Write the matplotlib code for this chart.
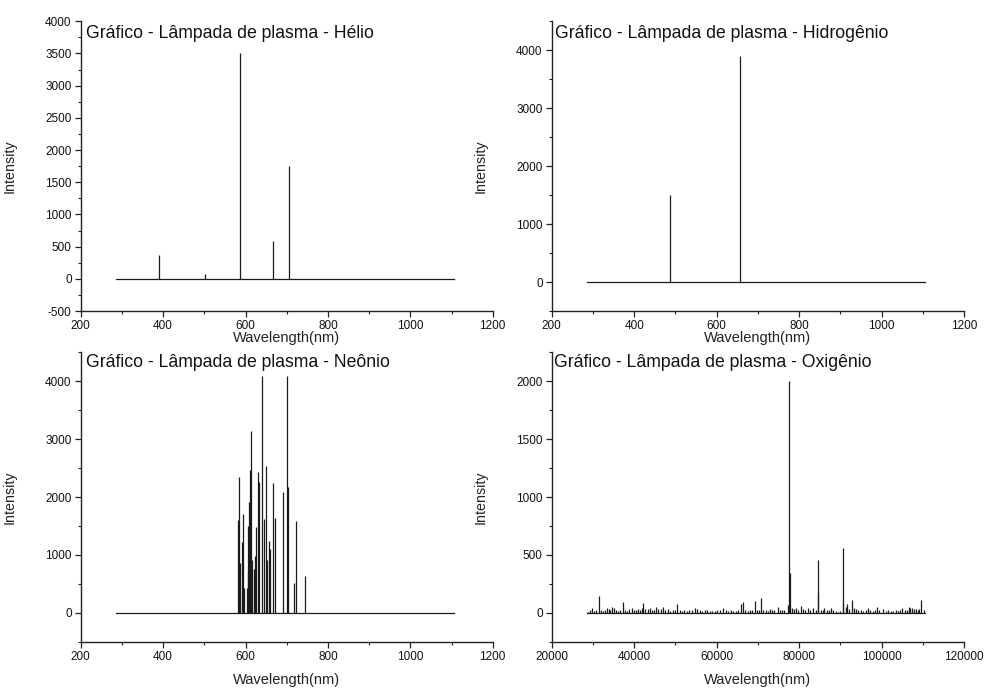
import matplotlib
matplotlib.use("Agg")
import matplotlib.pyplot as plt
from matplotlib.ticker import MultipleLocator

plt.rcParams['font.family'] = ['Liberation Sans', 'DejaVu Sans']
plt.rcParams['axes.unicode_minus'] = False

# ---------------- data ----------------
baseline_range = [285, 1105]

helio_wl = [389.3, 502, 587, 667.8, 706.6]
helio_int = [377, 82, 3504, 594, 1746]

hidro_wl = [486, 656]
hidro_int = [1500, 3900]

neon_wl = [582.5, 585, 586, 592, 594.7, 597, 603, 605, 607, 608.5, 611.7, 614.3,
           616.5, 620, 623, 626.2, 630.4, 633.6, 640, 645, 649, 651.5, 656, 659.5,
           666.7, 671, 692, 701.5, 703, 717, 723.4, 744.5]
neon_int = [1601, 2338, 864, 1226, 1705, 426, 426, 697, 1497, 1918, 2465, 3143,
            910, 749, 980, 1486, 2436, 2262, 4090, 1613, 2534, 910, 1244, 1100,
            2234, 1630, 2079, 4090, 2170, 508, 1584, 634]

oxi_range = [28500, 110500]
oxi_wl = [28800, 29300, 29800, 30300, 30800, 31550, 31900, 32400, 32900, 33350,
          33800, 34100, 34550, 35000, 35500, 36000, 36500, 37370, 37800, 38300,
          38800, 39400, 39900, 40400, 40900, 41400, 41800, 42220, 42700, 43300,
          43840, 44400, 44900, 45300, 45800, 46400, 47070, 47600, 48100, 48700,
          49300, 49900, 50460, 51000, 51600, 52200, 52800, 53400, 54000, 54680,
          55300, 55900, 56500, 57100, 57700, 58300, 58900, 59500, 60100, 60700,
          61550, 62200, 62800, 63400, 64000, 64600, 65200, 65840, 66400, 67000,
          67600, 68200, 68700, 69240, 69800, 70300, 70690, 71300, 71900, 72400,
          72950, 73500, 74000, 74820, 75400, 75900, 76400, 77240, 77630, 77870,
          78300, 78800, 79250, 79800, 80470, 81000, 81500, 82090, 82700, 83450,
          84000, 84520, 84660, 85200, 85700, 86120, 86700, 87200, 87750, 88300,
          88900, 89500, 90000, 90580, 90720, 91300, 91700, 92200, 92840, 93300,
          93800, 94400, 95000, 95600, 96200, 96720, 97300, 97900, 98500, 98980,
          99500, 100430, 101000, 101600, 102200, 102800, 103400, 104000, 104500,
          105040, 105600, 106200, 106660, 107000, 107470, 107900, 108290, 108800,
          109200, 109650, 110200]
oxi_int = [10, 20, 37, 18, 25, 147, 20, 15, 28, 37,
           30, 22, 52, 40, 25, 18, 20, 95, 22, 15,
           30, 37, 25, 20, 30, 22, 45, 81, 30, 35,
           43, 25, 20, 52, 35, 30, 52, 25, 30, 15,
           20, 25, 72, 20, 15, 25, 18, 20, 25, 43,
           30, 20, 15, 25, 20, 15, 18, 12, 20, 25,
           43, 20, 15, 25, 18, 12, 20, 72, 89, 20,
           15, 25, 20, 104, 25, 20, 124, 20, 25, 15,
           35, 20, 25, 46, 20, 25, 20, 66, 2000, 340,
           40, 30, 37, 25, 58, 30, 25, 43, 20, 43,
           20, 455, 173, 25, 20, 37, 25, 20, 37, 20,
           15, 10, 12, 556, 86, 52, 72, 30, 110, 40,
           30, 25, 20, 15, 20, 37, 20, 15, 20, 46,
           20, 30, 15, 20, 15, 12, 20, 15, 25,
           37, 20, 25, 46, 40, 43, 30, 35, 25,
           30, 110, 20]

titles = ["Gráfico - Lâmpada de plasma - Hélio",
          "Gráfico - Lâmpada de plasma - Hidrogênio",
          "Gráfico - Lâmpada de plasma - Neônio",
          "Gráfico - Lâmpada de plasma - Oxigênio"]

# ---------------- figure ----------------
fig = plt.figure(figsize=(9.92, 6.97), dpi=100)
W, H = 992, 697

def make_ax(l, t, r, b):
    return fig.add_axes([l / W, 1 - b / H, (r - l) / W, (b - t) / H])

ax1 = make_ax(80.7, 21.3, 492.7, 311)
ax2 = make_ax(551.7, 21.3, 964, 311)
ax3 = make_ax(80.7, 352.3, 492.7, 641.7)
ax4 = make_ax(551.7, 352.3, 964, 641.7)

lc = '#1a1a1a'
lw = 0.9

def spectrum(ax, rng, wl, inten):
    ax.plot(rng, [0, 0], color=lc, lw=lw)
    ax.vlines(wl, 0, inten, color=lc, lw=lw)

spectrum(ax1, baseline_range, helio_wl, helio_int)
spectrum(ax2, baseline_range, hidro_wl, hidro_int)
spectrum(ax3, baseline_range, neon_wl, neon_int)
spectrum(ax4, oxi_range, oxi_wl, oxi_int)

ax1.set_xlim(200, 1200); ax1.set_ylim(-500, 4000)
ax1.xaxis.set_major_locator(MultipleLocator(200)); ax1.xaxis.set_minor_locator(MultipleLocator(100))
ax1.yaxis.set_major_locator(MultipleLocator(500)); ax1.yaxis.set_minor_locator(MultipleLocator(250))

ax2.set_xlim(200, 1200); ax2.set_ylim(-500, 4500)
ax2.xaxis.set_major_locator(MultipleLocator(200)); ax2.xaxis.set_minor_locator(MultipleLocator(100))
ax2.yaxis.set_major_locator(MultipleLocator(1000)); ax2.yaxis.set_minor_locator(MultipleLocator(500))

ax3.set_xlim(200, 1200); ax3.set_ylim(-500, 4500)
ax3.xaxis.set_major_locator(MultipleLocator(200)); ax3.xaxis.set_minor_locator(MultipleLocator(100))
ax3.yaxis.set_major_locator(MultipleLocator(1000)); ax3.yaxis.set_minor_locator(MultipleLocator(500))

ax4.set_xlim(20000, 120000); ax4.set_ylim(-250, 2250)
ax4.xaxis.set_major_locator(MultipleLocator(20000)); ax4.xaxis.set_minor_locator(MultipleLocator(10000))
ax4.yaxis.set_major_locator(MultipleLocator(500)); ax4.yaxis.set_minor_locator(MultipleLocator(250))

title_pos = [(0.013, 0.944), (0.008, 0.944), (0.013, 0.950), (0.006, 0.948)]
for ax, t, (tx, ty), top in zip([ax1, ax2, ax3, ax4], titles, title_pos,
                                [True, True, False, False]):
    for s in ['top', 'right']:
        ax.spines[s].set_visible(False)
    for s in ['left', 'bottom']:
        ax.spines[s].set_linewidth(1.0)
        ax.spines[s].set_color('#222222')
    ax.tick_params(which='major', direction='out', length=4.5, width=0.9,
                   labelsize=8.5, colors='#222222', labelcolor='#111111', pad=2)
    ax.tick_params(which='minor', direction='out', length=2.5, width=0.8, colors='#222222')
    ax.text(tx, ty, t, transform=ax.transAxes, fontsize=12.7, va='baseline',
            ha='left', color='#111111')
    ax.set_ylabel("Intensity", fontsize=10.3, color='#222222')
    ax.set_xlabel("Wavelength(nm)", fontsize=10.5, color='#222222')
    ax.yaxis.set_label_coords(-0.155, 0.5)
    if top:
        ax.xaxis.set_label_coords(0.5, -0.092)
    else:
        ax.xaxis.set_label_coords(0.5, -0.132)
    ax.xaxis.label.set_va('center')

fig.savefig("out.png", dpi=100)
